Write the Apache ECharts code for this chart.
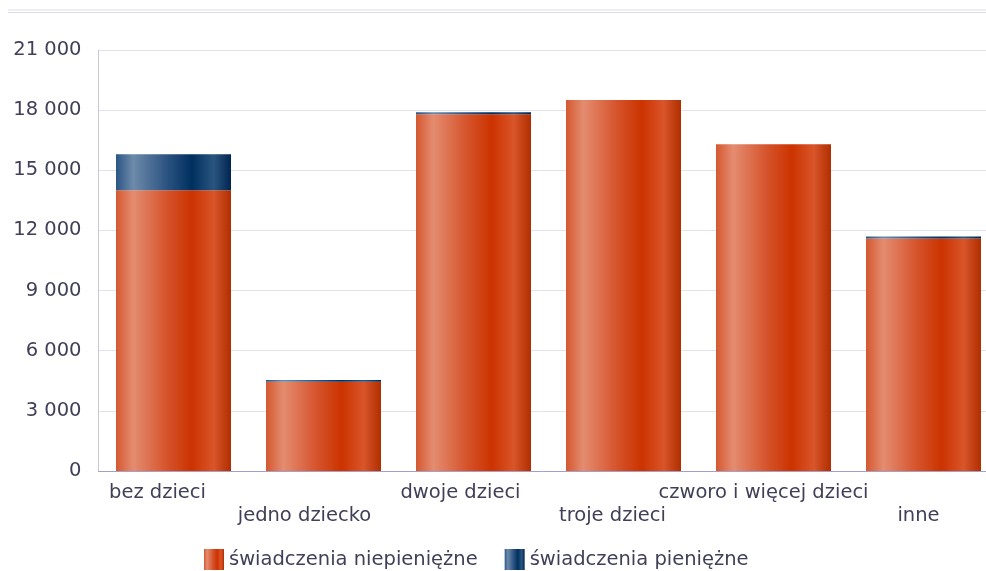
<!DOCTYPE html>
<html><head><meta charset="utf-8">
<script src="https://cdn.jsdelivr.net/npm/echarts@6/dist/echarts.min.js"></script>
<style>html,body{margin:0;padding:0;background:#fff}#c{width:986px;height:571px}</style>
</head><body><div id="c"></div>
<script>
const categories = ['bez dzieci','jedno dziecko','dwoje dzieci','troje dzieci','czworo i więcej dzieci','inne'];
const niepieniezne = [14000, 4450, 17800, 18500, 16300, 11600];
const pieniezne = [1800, 90, 100, 0, 0, 100];
const seriesNames = ['świadczenia niepieniężne','świadczenia pieniężne'];
const yTicks = [0, 3000, 6000, 9000, 12000, 15000, 18000, 21000];

const FONT = '"DejaVu Sans", Verdana, sans-serif';
const TXT = '#3f3f58';
const labelShift = [-16, -19, -13, -11, -10, -5];
function grad(stops){
  return new echarts.graphic.LinearGradient(0,0,1,0, stops.map(s=>({offset:s[0],color:s[1]})));
}
const orange = grad([[0,'#d4582f'],[0.15,'#e48c70'],[0.45,'#d5522a'],[0.66,'#cc3300'],[0.85,'#d9552a'],[1,'#b02e00']]);
const blue = grad([[0,'#2b5585'],[0.15,'#6d8aaa'],[0.45,'#2a5280'],[0.66,'#00305f'],[0.85,'#2a5580'],[1,'#002550']]);

const rich = {};
labelShift.forEach((s,i)=>{
  rich['l'+i] = {fontFamily:FONT, fontSize:19.5, color:TXT, lineHeight:23, padding:[0, -2*s, 0, 0]};
});

const chart = echarts.init(document.getElementById('c'));
chart.setOption({
  animation:false,
  graphic:[
    {type:'line', shape:{x1:8,y1:10,x2:986,y2:10}, style:{stroke:'#dcdce6',lineWidth:1}},
    {type:'line', shape:{x1:8,y1:12.5,x2:986,y2:12.5}, style:{stroke:'#dcdce6',lineWidth:1}}
  ],
  grid:{left:98.5, width:900, top:50, height:421, containLabel:false, outerBoundsMode:'none'},
  legend:{
    top:549, left:204, padding:0, itemWidth:20, itemHeight:21, itemGap:27, icon:'rect',
    textStyle:{fontFamily:FONT, fontSize:19.5, color:TXT},
    data:[{name:seriesNames[0], itemStyle:{color:orange}},{name:seriesNames[1], itemStyle:{color:blue}}]
  },
  xAxis:{
    type:'category', data:categories,
    axisLine:{lineStyle:{color:'#a0a0c8'}}, axisTick:{show:false},
    axisLabel:{interval:0, fontFamily:FONT, fontSize:19.5, color:TXT, margin:10, lineHeight:23,
      rich:rich,
      formatter:(v,i)=> (i%2 ? '{l'+i+'|}\n' : '') + '{l'+i+'|'+v+'}'}
  },
  yAxis:{
    type:'value', min:yTicks[0], max:yTicks[yTicks.length-1], interval:3000,
    axisLine:{show:true, lineStyle:{color:'#c8c8dc'}}, axisTick:{show:false},
    splitLine:{lineStyle:{color:'#e2e2ec'}},
    axisLabel:{fontFamily:FONT, fontSize:19.5, color:TXT, margin:17,
      formatter:v=> String(v).replace(/\B(?=(\d{3})+(?!\d))/g,' ')}
  },
  series:[
    {name:seriesNames[0], type:'bar', stack:'a', barWidth:115, data:niepieniezne, itemStyle:{color:orange}},
    {name:seriesNames[1], type:'bar', stack:'a', barWidth:115, data:pieniezne, itemStyle:{color:blue}}
  ]
});
</script></body></html>
